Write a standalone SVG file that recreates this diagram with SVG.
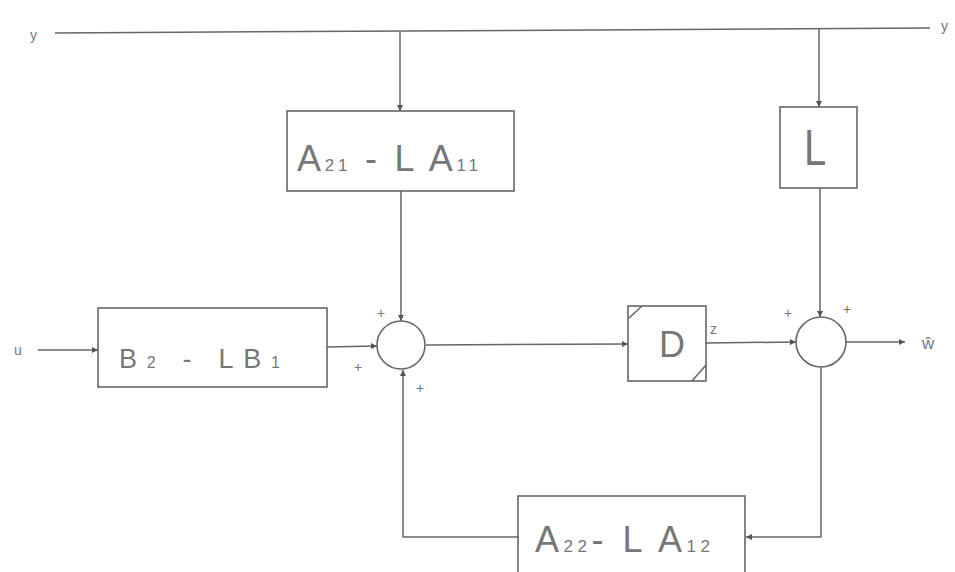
<svg xmlns="http://www.w3.org/2000/svg" width="955" height="572" viewBox="0 0 955 572">
<defs>
<marker id="arr" viewBox="0 0 10 10" refX="10" refY="5" markerWidth="8" markerHeight="6" markerUnits="userSpaceOnUse" orient="auto">
<path d="M0,0 L10,5 L0,10 z" fill="#555"/>
</marker>
</defs>
<style>
.ln{fill:none;stroke:#666;stroke-width:1.5}
.bx{fill:none;stroke:#666;stroke-width:1.6}
.t{font-family:"Liberation Sans",Arial,sans-serif;fill:#777}
.big{font-size:36px}
.sub{font-size:17px}
.sm{font-size:14px}
</style>
<rect width="955" height="572" fill="#ffffff"/>
<g id="connectors">
<path class="ln" d="M55,33 L930,28"/>
<path class="ln" d="M400,32 L400,111" marker-end="url(#arr)"/>
<path class="ln" d="M819,29 L819,107" marker-end="url(#arr)"/>
<path class="ln" d="M401,191 L401,321" marker-end="url(#arr)"/>
<path class="ln" d="M820,188 L820,317" marker-end="url(#arr)"/>
<path class="ln" d="M38,350 L98,350" marker-end="url(#arr)"/>
<path class="ln" d="M327,347 L377,346" marker-end="url(#arr)"/>
<path class="ln" d="M426,345 L628,344" marker-end="url(#arr)"/>
<path class="ln" d="M706,343 L796,342" marker-end="url(#arr)"/>
<path class="ln" d="M846,342 L905,342" marker-end="url(#arr)"/>
<path class="ln" d="M821,367 L821,537 L746,537" marker-end="url(#arr)"/>
<path class="ln" d="M518,537 L403,537 L403,370" marker-end="url(#arr)"/>
</g>
<g id="label-y-left"><text class="t sm" x="30" y="40">y</text></g>
<g id="label-y-right"><text class="t sm" x="941" y="31">y</text></g>
<g id="label-u"><text class="t sm" x="14" y="355">u</text></g>
<g id="label-z"><text class="t sm" x="710" y="334">z</text></g>
<g id="label-w"><text class="t" style="font-size:17px" x="922" y="349">ŵ</text></g>
<g id="A21-LA11">
<rect class="bx" x="287" y="111" width="227" height="80"/>
<text class="t big" x="297" y="171" textLength="181" lengthAdjust="spacing">A<tspan class="sub">21</tspan> - L A<tspan class="sub">11</tspan></text>
</g>
<g id="L">
<rect class="bx" x="780" y="107" width="77" height="81"/>
<text class="t" style="font-size:50px" x="804" y="165" transform="translate(804,0) scale(0.8,1) translate(-804,0)">L</text>
</g>
<g id="B2-LB1">
<rect class="bx" x="98" y="308" width="229" height="79"/>
<text class="t" style="font-size:27px" x="119" y="368" textLength="161" lengthAdjust="spacing">B<tspan style="font-size:16px">2</tspan> - LB<tspan style="font-size:16px">1</tspan></text>
</g>
<g id="sum1">
<circle class="bx" cx="401" cy="345" r="24"/>
<text class="t sm" x="377" y="318">+</text>
<text class="t sm" x="354" y="372">+</text>
<text class="t sm" x="416" y="393">+</text>
</g>
<g id="D">
<rect class="bx" x="628" y="306" width="78" height="75"/>
<path class="ln" d="M629,318 L642,306 M692,381 L706,365"/>
<text class="t big" x="659" y="357">D</text>
</g>
<g id="sum2">
<circle class="bx" cx="821" cy="342" r="25"/>
<text class="t sm" x="784" y="318">+</text>
<text class="t sm" x="843" y="314">+</text>
</g>
<g id="A22-LA12">
<rect class="bx" x="518" y="496" width="227" height="90"/>
<text class="t big" x="535" y="552" textLength="175" lengthAdjust="spacing">A<tspan class="sub">22</tspan>- L A<tspan class="sub">12</tspan></text>
</g>
</svg>
